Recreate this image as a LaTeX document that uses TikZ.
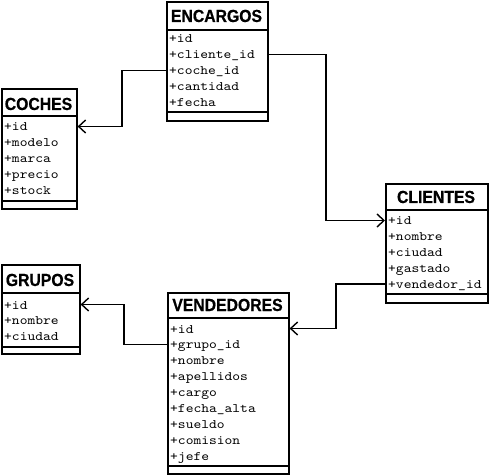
\documentclass[tikz,border=0pt]{standalone}
\usepackage{fontspec}
\usetikzlibrary{arrows.meta,calc}
\newfontfamily\ttlfam{Liberation Sans}[FakeStretch=0.9,FakeBold=0.6]
\newfontfamily\monofam{lmmono10-regular.otf}[FakeStretch=1.14]
\tikzset{
  tbl/.style={draw, line width=1.6bp, rectangle, inner sep=0pt, anchor=north west},
  sepline/.style={line width=1.6bp},
  ttl/.style={font=\ttlfam\bfseries\fontsize{17.5bp}{17.5bp}\selectfont, anchor=base, inner sep=0pt},
  attr/.style={font=\monofam\fontsize{13bp}{13bp}\selectfont, anchor=base west, inner sep=0pt},
  fk/.style={line width=1.4bp, -{Straight Barb[length=7bp,width=13bp,line width=1.4bp]}}
}
\begin{document}
\begin{tikzpicture}[x=1bp,y=-1bp]
\fill[white] (0,0) rectangle (489,476);
\useasboundingbox (0,0) rectangle (489,476);

% ENCARGOS
\node[tbl, minimum width=101bp, minimum height=119bp] (enc) at (166,1) {};
\node[ttl] (encT) at (216.5,22) {ENCARGOS};
\draw[sepline] (enc.west |- 0,30) -- (enc.east |- 0,30);
\draw[sepline] (enc.west |- 0,112) -- (enc.east |- 0,112);
\foreach \t [count=\i from 0] in {+id,+cliente\_id,+coche\_id,+cantidad,+fecha}
  \node[attr] (enc-\i) at (169,{43+15.9*\i}) {\t};

% COCHES
\node[tbl, minimum width=75bp, minimum height=120bp] (coc) at (1,88) {};
\node[ttl] (cocT) at (38.5,110) {COCHES};
\draw[sepline] (coc.west |- 0,116) -- (coc.east |- 0,116);
\draw[sepline] (coc.west |- 0,201) -- (coc.east |- 0,201);
\foreach \t [count=\i from 0] in {+id,+modelo,+marca,+precio,+stock}
  \node[attr] (coc-\i) at (4,{131+15.9*\i}) {\t};

% CLIENTES
\node[tbl, minimum width=102bp, minimum height=119bp] (cli) at (385,183) {};
\node[ttl] (cliT) at (436,203) {CLIENTES};
\draw[sepline] (cli.west |- 0,210) -- (cli.east |- 0,210);
\draw[sepline] (cli.west |- 0,294) -- (cli.east |- 0,294);
\foreach \t [count=\i from 0] in {+id,+nombre,+ciudad,+gastado,+vendedor\_id}
  \node[attr] (cli-\i) at (388,{225+15.9*\i}) {\t};

% GRUPOS
\node[tbl, minimum width=78bp, minimum height=89bp] (gru) at (1,264) {};
\node[ttl] (gruT) at (40,286) {GRUPOS};
\draw[sepline] (gru.west |- 0,293) -- (gru.east |- 0,293);
\draw[sepline] (gru.west |- 0,347) -- (gru.east |- 0,347);
\foreach \t [count=\i from 0] in {+id,+nombre,+ciudad}
  \node[attr] (gru-\i) at (4,{309+15.9*\i}) {\t};

% VENDEDORES
\node[tbl, minimum width=121bp, minimum height=181bp] (ven) at (167,292) {};
\node[ttl] (venT) at (227.5,311) {VENDEDORES};
\draw[sepline] (ven.west |- 0,318) -- (ven.east |- 0,318);
\draw[sepline] (ven.west |- 0,466) -- (ven.east |- 0,466);
\foreach \t [count=\i from 0] in {+id,+grupo\_id,+nombre,+apellidos,+cargo,+fecha\_alta,+sueldo,+comision,+jefe}
  \node[attr] (ven-\i) at (170,{333+15.9*\i}) {\t};

% row reference points
\coordinate (eCl) at ($(enc-1.base west)+(0,-4.5)$);
\coordinate (eC)  at ($(enc-2.base west)+(0,-4.5)$);
\coordinate (cI)  at ($(coc-0.base west)+(0,-4.5)$);
\coordinate (kI)  at ($(cli-0.base west)+(0,-4.5)$);
\coordinate (kV)  at ($(cli-4.base west)+(0,-4.5)$);
\coordinate (vI)  at ($(ven-0.base west)+(0,-4.5)$);
\coordinate (vG)  at ($(ven-1.base west)+(0,-4.5)$);
\coordinate (gI)  at ($(gru-0.base west)+(0,-4.5)$);

% connectors
\draw[fk] (enc.west |- eC) -| (122,0 |- cI) -- (coc.east |- cI);
\draw[fk] (enc.east |- eCl) -| (326,0 |- kI) -- (cli.west |- kI);
\draw[fk] (cli.west |- kV) -| (336,0 |- vI) -- (ven.east |- vI);
\draw[fk] (ven.west |- vG) -| (124,0 |- gI) -- (gru.east |- gI);
\end{tikzpicture}
\end{document}
